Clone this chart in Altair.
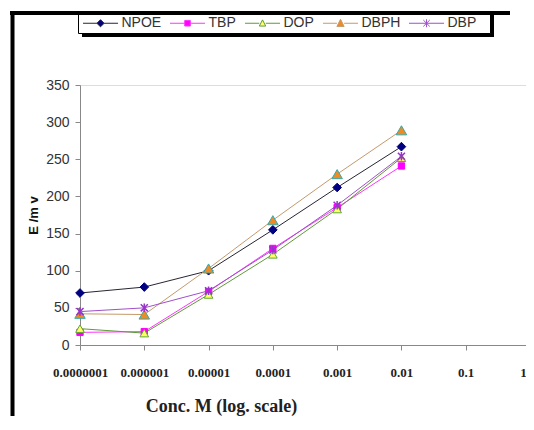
import altair as alt
import pandas as pd

# ---- data ----
conc = [1e-7, 1e-6, 1e-5, 1e-4, 1e-3, 1e-2]
series = ["NPOE", "TBP", "DOP", "DBPH", "DBP"]
npoe = [70, 78, 100, 155, 212, 267]
tbp = [17, 18, 72, 130, 185, 241]
dop = [22, 16, 68, 122, 183, 252]
dbph = [42, 41, 103, 168, 230, 289]
dbp = [45, 50, 73, 128, 188, 254]
x_ticks = [1e-7, 1e-6, 1e-5, 1e-4, 1e-3, 1e-2, 1e-1, 1]
y_ticks = [0, 50, 100, 150, 200, 250, 300, 350]

vals = {"NPOE": npoe, "TBP": tbp, "DOP": dop, "DBPH": dbph, "DBP": dbp}
rows = []
for s in series:
    for c, v in zip(conc, vals[s]):
        rows.append({"series": s, "conc": c, "E": v})
df = pd.DataFrame(rows)

# ---- styles ----
line_colors = ["#262633", "#ff33ff", "#5f9a3a", "#c49a6c", "#a050c8"]
marker_fill = ["#000080", "#ff00ff", "#ffff66", "#f08a24", "#9933cc"]
point_style = {
    "NPOE": dict(shape="diamond", filled=True, fill="#000080", stroke="#000080", size=75),
    "TBP": dict(shape="square", filled=True, fill="#ff00ff", stroke="#ff00ff", size=40),
    "DOP": dict(shape="triangle-up", filled=True, fill="#ffff66", stroke="#5faa33", size=75),
    "DBPH": dict(shape="triangle-up", filled=True, fill="#f08a24", stroke="#33aaaa", size=110),
    "DBP": dict(shape="M-1,-1L1,1M-1,1L1,-1M0,-1.2V1.2", filled=False, stroke="#9933cc",
                size=50, strokeWidth=1.5),
}
legend_paths = [
    "M-1,0H0.74M1.64,0H3.38M1.19,-0.45L1.64,0L1.19,0.45L0.74,0Z",
    "M-1,0H0.84M1.54,0H3.38M0.84,-0.35H1.54V0.35H0.84Z",
    "M-1,0H0.79M1.59,0H3.38M1.19,-0.42L1.59,0.35L0.79,0.35Z",
    "M-1,0H0.74M1.64,0H3.38M1.19,-0.5L1.64,0.4L0.74,0.4Z",
    "M-1,0H3.38M0.79,-0.4L1.59,0.4M0.79,0.4L1.59,-0.4M1.19,-0.5V0.5",
]

legend = alt.Legend(
    orient="none", legendX=2.5, legendY=-70.5, direction="horizontal", columns=5,
    title=None, symbolSize=256, symbolStrokeWidth=1, symbolOpacity=1,
    labelFont="Liberation Sans", labelFontSize=14, labelColor="#333333",
    labelOffset=22, columnPadding=6, padding=0,
)

x_enc = alt.X("conc:Q", scale=alt.Scale(type="log", domain=[1e-7, 1]),
              axis=alt.Axis(values=x_ticks, format=".7~f", grid=False,
                            labelFont="Liberation Serif", labelFontWeight="bold",
                            labelFontSize=13, labelColor="#222222", labelPadding=16,
                            labelOverlap=False, labelFlush=False,
                            labelOffset={"condition": {"test": "datum.value >= 1", "value": -7},
                                         "value": 0},
                            tickSize=5, tickColor="#888888", domainColor="#888888",
                            title="Conc. M (log. scale)", titleFont="Liberation Serif",
                            titleFontSize=18, titleFontWeight="bold", titleColor="#222222",
                            titleX=141, titleY=61, titleAlign="center",
                            titleBaseline="middle"))
y_enc = alt.Y("E:Q", scale=alt.Scale(domain=[0, 350]),
              axis=alt.Axis(values=y_ticks, grid=False,
                            labelFont="Liberation Sans", labelFontSize=14,
                            labelColor="#333333", labelPadding=6,
                            tickSize=5, tickColor="#888888", domainColor="#888888",
                            title="E /m v", titleFont="Liberation Sans", titleFontSize=13,
                            titleFontWeight="bold", titleColor="#111111",
                            titleX=-47, titleBaseline="middle"))

stroke_scale = alt.Scale(domain=series, range=line_colors)
base = alt.Chart(df)

lines = base.mark_line(strokeWidth=1).encode(
    x=x_enc, y=y_enc,
    stroke=alt.Stroke("series:N", scale=stroke_scale, legend=legend),
    detail="series:N",
)

legend_layer = base.mark_point(filled=True, opacity=0).encode(
    x=x_enc, y=y_enc,
    stroke=alt.Stroke("series:N", scale=stroke_scale, legend=legend),
    fill=alt.Fill("series:N", scale=alt.Scale(domain=series, range=marker_fill), legend=legend),
    shape=alt.Shape("series:N", scale=alt.Scale(domain=series, range=legend_paths), legend=legend),
)

point_layers = []
for s in series:
    st = dict(point_style[s])
    st.setdefault("strokeWidth", 1)
    point_layers.append(
        base.transform_filter(alt.datum.series == s).mark_point(opacity=1, **st).encode(x=x_enc, y=y_enc)
    )

one = alt.Data(values=[{}])
frame_top = alt.Chart(one).mark_rule(color="black", strokeWidth=4).encode(
    x=alt.value(-70), x2=alt.value(430), y=alt.value(-72))
frame_left = alt.Chart(one).mark_rule(color="black", strokeWidth=4).encode(
    x=alt.value(-67.5), y=alt.value(-74), y2=alt.value(340))
legend_shadow = alt.Chart(one).mark_rect(color="black").encode(
    x=alt.value(2), x2=alt.value(414), y=alt.value(-70), y2=alt.value(-48))
legend_box = alt.Chart(one).mark_rect(fill="white", stroke="black", strokeWidth=1).encode(
    x=alt.value(-1.5), x2=alt.value(410.5), y=alt.value(-72), y2=alt.value(-51.5))

chart = alt.layer(legend_shadow, legend_box, frame_top, frame_left,
                  lines, legend_layer, *point_layers).properties(
    width=450, height=260,
    autosize=alt.AutoSizeParams(type="none"),
    padding={"left": 72, "top": 77, "right": -4, "bottom": 71},
).configure_view(stroke=None).configure(background="white")

chart.save("out.html", embed_options={"renderer": "svg", "actions": False})
